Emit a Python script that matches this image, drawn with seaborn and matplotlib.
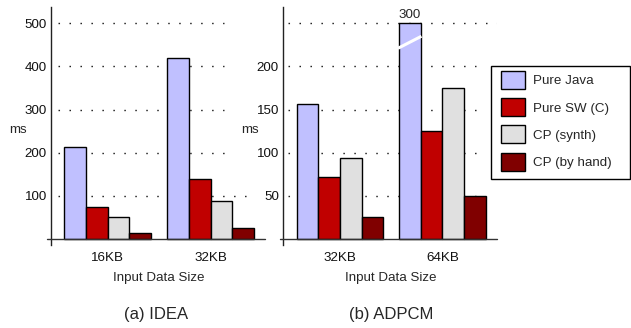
import numpy as np
import pandas as pd
import matplotlib
matplotlib.use("Agg")
import matplotlib.pyplot as plt
from matplotlib.patches import Rectangle
import seaborn as sns

# ---- data ----
configs = ["Pure Java", "Pure SW (C)", "CP (synth)", "CP (by hand)"]
colors = ["#C0C0FF", "#C00000", "#E0E0E0", "#800000"]

idea_sizes = ["16KB", "32KB"]
idea_java = [214, 419]
idea_sw = [75, 138]
idea_synth = [50, 88]
idea_hand = [13, 25]

adpcm_sizes = ["32KB", "64KB"]
adpcm_java = [156, 300]
adpcm_sw = [72, 125]
adpcm_synth = [94, 175]
adpcm_hand = [25, 50]
adpcm_cap = 250  # broken-axis display cap

idea_ticks = [100, 200, 300, 400, 500]
adpcm_ticks = [50, 100, 150, 200, 250]
adpcm_ticklabels = ["50", "100", "150", "200", ""]

# gridline extents (axes fraction), styling only
idea_grid_end = [0.93, 0.85, 0.81, 0.81, 0.81]
adpcm_grid_end = [0.92, 0.92, 0.92, 0.90, 1.0]


def make_df(sizes, series):
    rows = []
    for cfg, vals in zip(configs, series):
        for s, v in zip(sizes, vals):
            rows.append({"size": s, "config": cfg, "ms": v})
    return pd.DataFrame(rows)


df_idea = make_df(idea_sizes, [idea_java, idea_sw, idea_synth, idea_hand])
df_adpcm = make_df(adpcm_sizes, [adpcm_java, adpcm_sw, adpcm_synth, adpcm_hand])
df_adpcm["shown"] = np.minimum(df_adpcm["ms"], adpcm_cap)

sns.set_style("white")
plt.rcParams["font.family"] = ["Liberation Sans", "DejaVu Sans"]
FS = 9.6
plt.rcParams["font.size"] = FS

W, H = 631, 328
fig = plt.figure(figsize=(W / 100, H / 100), dpi=100)
axL = fig.add_axes([51 / W, 83 / H, 214 / W, 238 / H])
axR = fig.add_axes([283 / W, 83 / H, 214 / W, 238 / H])

bw = 0.845
grid_kw = dict(linestyle=(0, (1.1, 6.8)), color="#222222", linewidth=1.0, zorder=0.5)

sns.barplot(data=df_idea, x="size", y="ms", hue="config", hue_order=configs,
            palette=colors, saturation=1, width=bw, gap=0, edgecolor="black",
            linewidth=1.0, ax=axL, legend=False, errorbar=None)
sns.barplot(data=df_adpcm, x="size", y="shown", hue="config", hue_order=configs,
            palette=colors, saturation=1, width=bw, gap=0, edgecolor="black",
            linewidth=1.0, ax=axR, legend=True, errorbar=None)

handles, labels = axR.get_legend_handles_labels()
axR.get_legend().remove()

for ax, ticks, tl, ends, gstart, ylim, xlim, bx in [
    (axL, idea_ticks, [str(t) for t in idea_ticks], idea_grid_end, 0.033,
     (-13.9, 537.8), (-0.549, 1.529), -4 / 214),
    (axR, adpcm_ticks, adpcm_ticklabels, adpcm_grid_end, 0.023,
     (-6.95, 268.9), (-0.556, 1.532), -3 / 214),
]:
    ax.set_ylim(*ylim)
    ax.set_xlim(*xlim)
    ax.set_yticks(ticks)
    ax.set_yticklabels(tl)
    ax.grid(False)
    for t, e in zip(ticks, ends):
        ax.axhline(t, xmin=gstart, xmax=e, **grid_kw)
    ax.set_axisbelow(True)
    ax.tick_params(axis="y", length=0, pad=3, labelsize=FS, colors="#111111")
    ax.tick_params(axis="x", length=0, pad=5.0, labelsize=FS, colors="#111111")
    ax.set_xlabel("")
    ax.set_ylabel("")
    for s in ["top", "right", "bottom"]:
        ax.spines[s].set_visible(False)
    ax.spines["left"].set_color("#222222")
    ax.spines["left"].set_linewidth(1.0)
    ax.axhline(0, xmin=bx, xmax=1, color="#333333", lw=1.0, clip_on=False, zorder=4)

# broken bar annotation
java_x = 1 - 1.5 * bw / 4
axR.text(java_x, 256, str(adpcm_java[1]), ha="center", va="baseline",
         fontsize=FS, clip_on=False)
axR.plot([java_x - bw / 8 - 0.012, java_x + bw / 8 + 0.006], [221, 235],
         color="white", lw=2.2, solid_capstyle="butt", zorder=6)

fig.text(18 / W, 1 - 130 / H, "ms", ha="center", va="center", fontsize=FS)
fig.text(250 / W, 1 - 130 / H, "ms", ha="center", va="center", fontsize=FS)
fig.text(159 / W, 1 - 278 / H, "Input Data Size", ha="center", va="center", fontsize=FS)
fig.text(391 / W, 1 - 278 / H, "Input Data Size", ha="center", va="center", fontsize=FS)
fig.text(156 / W, 1 - 315 / H, "(a) IDEA", ha="center", va="center", fontsize=12)
fig.text(391 / W, 1 - 315 / H, "(b) ADPCM", ha="center", va="center", fontsize=12)

# legend frame drawn separately for exact padding
fig.patches.append(Rectangle((491 / W, 1 - 179 / H), 139 / W, 113 / H,
                             transform=fig.transFigure, facecolor="white",
                             edgecolor="black", linewidth=1.0, zorder=4))
fpx = FS * 100 / 72
leg = fig.legend(handles, labels, loc="upper left",
                 bbox_to_anchor=(501.5 / W, 1 - 71.0 / H), fontsize=FS,
                 handlelength=24 / fpx, handleheight=22.5 / fpx,
                 labelspacing=0.70, handletextpad=0.6, borderpad=0,
                 borderaxespad=0, frameon=False)
leg.set_zorder(5)
for h in leg.legend_handles:
    h.set_edgecolor("black")
    h.set_linewidth(1.0)

fig.savefig("out.png", dpi=100)
